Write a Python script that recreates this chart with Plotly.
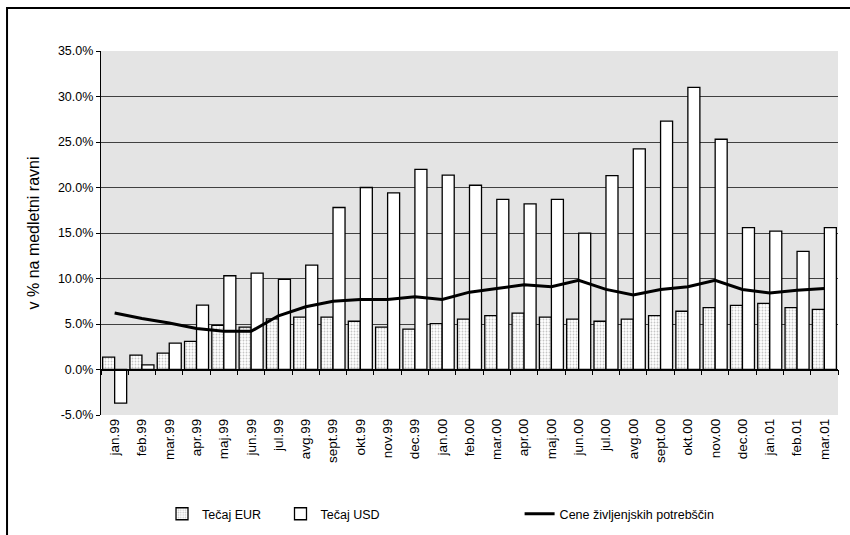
import plotly.graph_objects as go

months = ["jan.99", "feb.99", "mar.99", "apr.99", "maj.99", "jun.99", "jul.99",
          "avg.99", "sept.99", "okt.99", "nov.99", "dec.99", "jan.00", "feb.00",
          "mar.00", "apr.00", "maj.00", "jun.00", "jul.00", "avg.00", "sept.00",
          "okt.00", "nov.00", "dec.00", "jan.01", "feb.01", "mar.01"]

tecaj_eur = [1.35, 1.57, 1.8, 3.1, 4.84, 4.65, 5.57, 5.75, 5.75, 5.3, 4.65, 4.43,
             5.05, 5.53, 5.93, 6.19, 5.75, 5.53, 5.3, 5.53, 5.93, 6.4, 6.8, 7.05,
             7.27, 6.8, 6.6]

tecaj_usd = [-3.7, 0.5, 2.9, 7.07, 10.3, 10.6, 9.9, 11.46, 17.8, 20.0, 19.4, 22.0,
             21.35, 20.25, 18.7, 18.2, 18.7, 14.98, 21.3, 24.25, 27.3, 31.0, 25.3,
             15.6, 15.2, 12.97, 15.6]

cene = [6.2, 5.6, 5.1, 4.5, 4.2, 4.2, 5.9, 6.9, 7.5, 7.7, 7.7, 8.0, 7.7, 8.5,
        8.9, 9.3, 9.1, 9.8, 8.8, 8.2, 8.8, 9.1, 9.8, 8.8, 8.4, 8.7, 8.9]

y_ticks = [-5, 0, 5, 10, 15, 20, 25, 30, 35]

idx = list(range(len(months)))
FONT = "Arial, Liberation Sans, sans-serif"

fig = go.Figure()
fig.add_trace(go.Bar(
    x=idx, y=tecaj_eur, name="Tečaj EUR", legend="legend",
    marker=dict(color="white",
                line=dict(color="black", width=1.3),
                pattern=dict(shape=".", fgcolor="#8c8c8c", bgcolor="white",
                             size=3, solidity=0.3)),
))
fig.add_trace(go.Bar(
    x=idx, y=tecaj_usd, name="Tečaj USD", legend="legend2",
    marker=dict(color="white", line=dict(color="black", width=1.3)),
))
# the price line sits on the overlaid axis that also carries the zero line
fig.add_trace(go.Scatter(
    x=idx, y=cene, name="Cene življenjskih potrebščin", mode="lines",
    xaxis="x2", legend="legend3",
    line=dict(color="black", width=3),
))

# fraction of the plot height where the value 0 sits
zero_pos = (0 - y_ticks[0]) / (y_ticks[-1] - y_ticks[0])
x_range = [-0.5, len(months) - 0.5]

legend_common = dict(orientation="h", xref="container", yref="container",
                     xanchor="left", y=0.039, yanchor="middle",
                     font=dict(size=12.5), bgcolor="rgba(0,0,0,0)",
                     itemwidth=30)

fig.update_layout(
    width=850, height=535,
    margin=dict(l=101, r=12, t=51, b=120, autoexpand=False),
    paper_bgcolor="white",
    plot_bgcolor="#e4e4e4",
    barmode="group", bargap=0.12, bargroupgap=0,
    font=dict(family=FONT, size=12, color="black"),
    showlegend=True,
    legend=dict(x=0.1906, **legend_common),
    legend2=dict(x=0.330, **legend_common),
    legend3=dict(x=0.6113, **legend_common),
    xaxis=dict(range=x_range, tickvals=idx, ticktext=months,
               tickangle=-90, showgrid=False, zeroline=False, showline=False,
               ticks="", tickfont=dict(size=13.5), automargin=False),
    xaxis2=dict(overlaying="x", anchor="free", position=zero_pos,
                range=x_range,
                tickvals=[i - 0.5 for i in range(len(months) + 1)],
                showticklabels=False, ticks="outside", ticklen=5,
                tickcolor="black", tickwidth=1.2, showline=True,
                linecolor="black", linewidth=1.6, showgrid=False,
                zeroline=False),
    yaxis=dict(range=[y_ticks[0], y_ticks[-1]], tickvals=y_ticks,
               ticktext=[f"{v:.1f}%" for v in y_ticks],
               showgrid=True, gridcolor="#404040", gridwidth=1.2,
               zeroline=False, showline=True, linecolor="black", linewidth=1.3,
               ticks="outside", ticklen=4, tickcolor="black",
               tickfont=dict(size=12.5), automargin=False,
               title=dict(text="v % na medletni ravni",
                          font=dict(size=16), standoff=14)),
    shapes=[dict(type="rect", xref="paper", yref="paper",
                 x0=-0.1275, x1=1.1, y0=-0.6, y1=1.118,
                 line=dict(color="black", width=2), layer="above")],
)

fig.write_html("out.html")
